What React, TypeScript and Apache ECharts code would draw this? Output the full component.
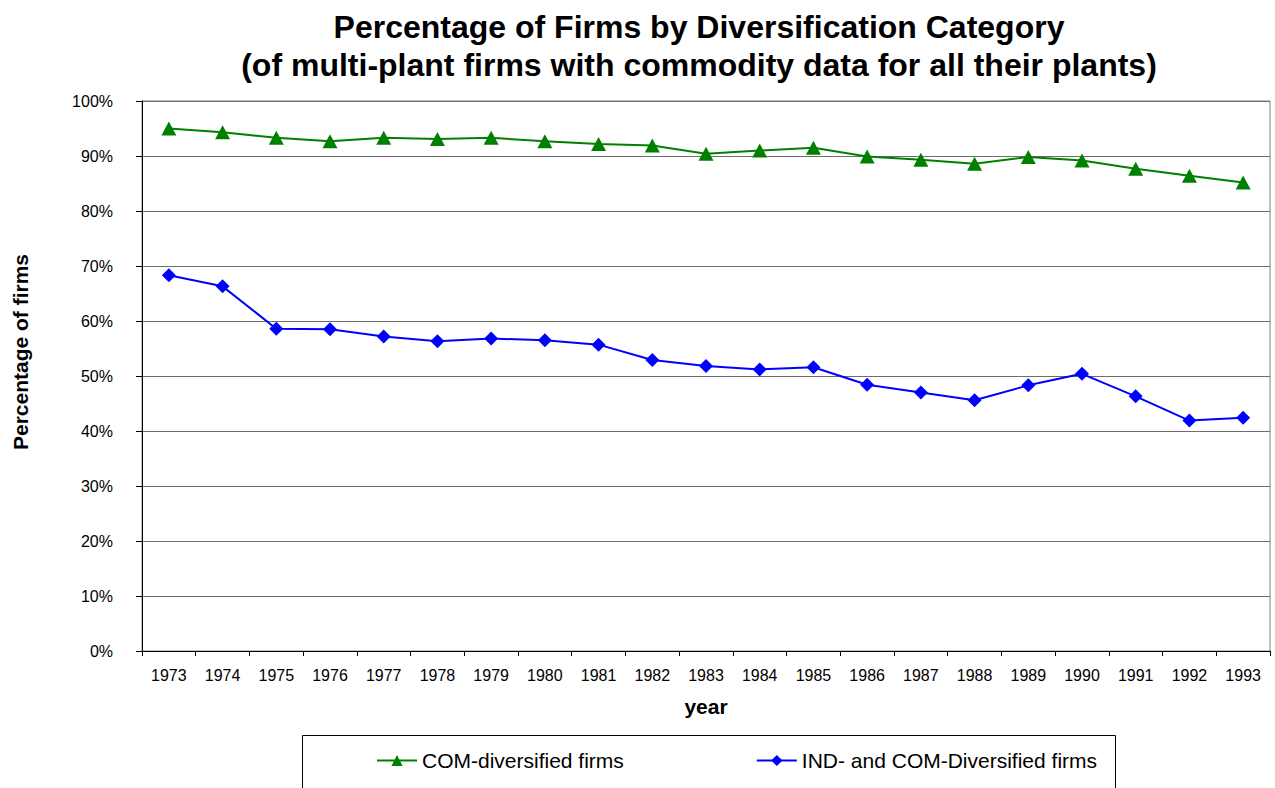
import React, { useEffect, useRef } from "react";
import * as echarts from "echarts";

const years = ["1973","1974","1975","1976","1977","1978","1979","1980","1981","1982","1983","1984","1985","1986","1987","1988","1989","1990","1991","1992","1993"];
const comDiversified = [95.0,94.3,93.3,92.7,93.3,93.1,93.3,92.7,92.2,91.9,90.4,91.0,91.5,89.9,89.3,88.6,89.8,89.2,87.7,86.4,85.2];
const indComDiversified = [68.3,66.3,58.6,58.5,57.2,56.3,56.8,56.5,55.7,52.9,51.8,51.2,51.6,48.4,47.0,45.6,48.3,50.4,46.3,41.9,42.4];
const seriesNames = ["COM-diversified firms", "IND- and COM-Diversified firms"];
const titleLines = ["Percentage of Firms by Diversification Category", "(of multi-plant firms with commodity data for all their plants)"];

const FONT = "'Liberation Sans', Arial, sans-serif";

export default function App() {
  const ref = useRef<HTMLDivElement>(null);
  useEffect(() => {
    if (!ref.current) return;
    const chart = echarts.init(ref.current, null, { renderer: "svg" });
    chart.setOption({
      animation: false,
      backgroundColor: "#ffffff",
      textStyle: { fontFamily: FONT },
      title: {
        text: titleLines.join("\n"),
        left: 694,
        textAlign: "center",
        top: 3,
        textStyle: { fontFamily: FONT, fontSize: 32, fontWeight: "bold", color: "#000", lineHeight: 38 },
      },
      grid: { left: 142, right: 5, top: 101, bottom: 137, show: true, borderColor: "#808080", borderWidth: 1, backgroundColor: "#fff" },
      legend: {
        data: seriesNames,
        left: 371,
        top: 745,
        itemWidth: 40,
        itemHeight: 14,
        itemGap: 132,
        textStyle: { fontFamily: FONT, fontSize: 21, color: "#000" },
      },
      graphic: [
        { type: "rect", left: 300, top: 733, shape: { width: 813, height: 70 }, style: { fill: "none", stroke: "#000", lineWidth: 1 }, z: -1 },
        { type: "text", x: 20, y: 352, rotation: Math.PI / 2, style: { text: "Percentage of firms", font: "bold 21px " + FONT, fill: "#000", align: "center", verticalAlign: "middle" } },
      ],
      xAxis: {
        type: "category",
        data: years,
        boundaryGap: true,
        name: "year",
        nameLocation: "middle",
        nameGap: 45,
        nameTextStyle: { fontFamily: FONT, fontSize: 21, fontWeight: "bold", color: "#000" },
        axisLine: { lineStyle: { color: "#000", width: 1 } },
        axisTick: { show: true, length: 5, alignWithLabel: false, lineStyle: { color: "#000" } },
        axisLabel: { fontFamily: FONT, fontSize: 16, color: "#000", margin: 16, interval: 0 },
        splitLine: { show: false },
      },
      yAxis: {
        type: "value",
        min: 0,
        max: 100,
        interval: 10,
        axisLine: { show: true, lineStyle: { color: "#000", width: 1 } },
        axisTick: { show: true, length: 6, lineStyle: { color: "#000" } },
        axisLabel: { fontFamily: FONT, fontSize: 16, color: "#000", margin: 29, formatter: "{value}%" },
        splitLine: { show: true, lineStyle: { color: "#6e6e6e", width: 1 } },
      },
      series: [
        {
          name: seriesNames[0],
          type: "line",
          data: comDiversified,
          symbol: "triangle",
          symbolSize: [15, 14],
          lineStyle: { color: "#008000", width: 2 },
          itemStyle: { color: "#008000" },
        },
        {
          name: seriesNames[1],
          type: "line",
          data: indComDiversified,
          symbol: "diamond",
          symbolSize: 14,
          lineStyle: { color: "#0000ff", width: 2 },
          itemStyle: { color: "#0000ff" },
        },
      ],
    });
    return () => chart.dispose();
  }, []);
  return <div ref={ref} style={{ position: "absolute", left: 0, top: 0, width: 1275, height: 788 }} />;
}
